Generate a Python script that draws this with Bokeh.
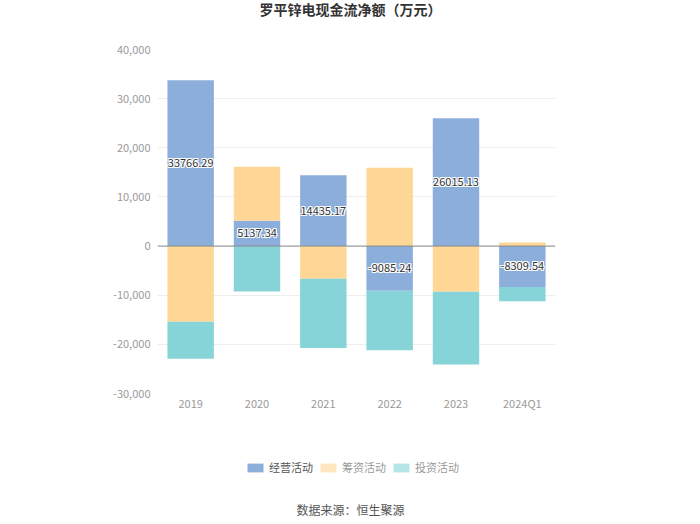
from bokeh.plotting import figure
from bokeh.layouts import column
from bokeh.models import (ColumnDataSource, FactorRange, Range1d, FixedTicker, NumeralTickFormatter,
                          Span, Label, Legend, LegendItem)
from bokeh.embed import file_html
from bokeh.resources import INLINE
from bokeh.core.properties import value

categories = ["2019", "2020", "2021", "2022", "2023", "2024Q1"]
operating = [33766.29, 5137.34, 14435.17, -9085.24, 26015.13, -8309.54]
financing = [-15400.0, 11000.0, -6650.0, 15950.0, -9300.0, 750.0]
investing = [-7550.0, -9250.0, -14080.0, -12100.0, -14820.0, -2900.0]
series_names = ["经营活动", "筹资活动", "投资活动"]
y_ticks = [-30000, -20000, -10000, 0, 10000, 20000, 30000, 40000]
title_text = "罗平锌电现金流净额（万元）"
source_text = "数据来源：恒生聚源"

colors = ["#8caedb", "#fed797", "#86d4d8"]
FONT = "Noto Sans CJK SC"

W = 700
H_TOP, H_MAIN, H_BOT = 30, 390, 104
BL, BR = 157, 145  # left / right borders shared by all three rows


def blank(h):
    f = figure(width=W, height=h, x_range=Range1d(BL, W - BR), y_range=Range1d(0, h),
               output_backend="svg", toolbar_location=None,
               min_border_left=BL, min_border_right=BR, min_border_top=0, min_border_bottom=0,
               x_axis_location=None, y_axis_location=None)
    f.outline_line_color = None
    f.xgrid.visible = False
    f.ygrid.visible = False
    return f


# ---- title strip
p_top = blank(H_TOP)
p_top.add_layout(Label(x=W / 2, y=H_TOP - 8, text=title_text, text_align="center",
                       text_baseline="middle", text_font=FONT, text_font_size="14px",
                       text_font_style="bold", text_color="#333333"))

# ---- main chart
p = figure(x_range=FactorRange(*categories), y_range=Range1d(-30000, 40000),
           width=W, height=H_MAIN, output_backend="svg", toolbar_location=None,
           min_border_left=BL, min_border_right=BR, min_border_top=19, min_border_bottom=27)
p.outline_line_color = None

pos = [0.0] * len(categories)
neg = [0.0] * len(categories)
for vals, col in zip([operating, financing, investing], colors):
    bottoms, tops = [], []
    for i, v in enumerate(vals):
        if v >= 0:
            bottoms.append(pos[i]); tops.append(pos[i] + v); pos[i] += v
        else:
            bottoms.append(neg[i]); tops.append(neg[i] + v); neg[i] += v
    src = ColumnDataSource(dict(x=categories, bottom=bottoms, top=tops))
    p.vbar(x="x", bottom="bottom", top="top", width=0.7, source=src,
           fill_color=col, line_color=None)

p.add_layout(Span(location=0, dimension="width", line_color="#8a8a8a", line_width=1))

lab_src = ColumnDataSource(dict(x=categories, y=[v / 2 for v in operating],
                                t=["%.2f" % v for v in operating]))
for dx, dy in [(-1, 0), (1, 0), (0, -1), (0, 1), (-1, -1), (1, 1), (-1, 1), (1, -1)]:
    p.text(x="x", y="y", text="t", source=lab_src, x_offset=dx, y_offset=dy,
           text_align="center", text_baseline="middle", text_color="white",
           text_font=value(FONT), text_font_size="11px")
p.text(x="x", y="y", text="t", source=lab_src, text_align="center", text_baseline="middle",
       text_color="#333333", text_font=value(FONT), text_font_size="11px")

for ax in (p.xaxis[0], p.yaxis[0]):
    ax.axis_line_color = None
    ax.major_tick_line_color = None
    ax.minor_tick_line_color = None
    ax.major_tick_out = 0
    ax.major_tick_in = 0
    ax.minor_tick_out = 0
    ax.minor_tick_in = 0
    ax.major_label_text_color = "#9a9a9a"
    ax.major_label_text_font = FONT
    ax.major_label_text_font_size = "11px"
p.yaxis.ticker = FixedTicker(ticks=y_ticks)
p.yaxis.formatter = NumeralTickFormatter(format="0,0")
p.yaxis.major_label_standoff = 7
p.xaxis.major_label_standoff = 1
p.xgrid.grid_line_color = None
p.ygrid.grid_line_color = "#eeeeee"
p.ygrid.ticker = FixedTicker(ticks=y_ticks)

# ---- legend + source strip
p_bot = blank(H_BOT)
leg_r = [p_bot.vbar(x=[BL], top=[0], bottom=[0], width=0, fill_color=c, line_color=None)
         for c in colors]
leg_r[1].visible = False
leg_r[2].visible = False
legend = Legend(items=[LegendItem(label=n, renderers=[r]) for n, r in zip(series_names, leg_r)],
                orientation="horizontal", location=(88, 49), click_policy="hide",
                glyph_width=20, glyph_height=11, label_height=12, label_standoff=4,
                spacing=5, padding=0, margin=0, border_line_color=None,
                background_fill_alpha=0, label_text_font=FONT, label_text_font_size="11px",
                label_text_color="#555555", inactive_fill_color="white", inactive_fill_alpha=0.4)
p_bot.add_layout(legend, "center")
p_bot.add_layout(Label(x=W / 2, y=H_BOT - 89, text=source_text, text_align="center",
                       text_baseline="middle", text_font=FONT, text_font_size="12px",
                       text_color="#555555"))

layout = column(p_top, p, p_bot, spacing=0)
open("out.html", "w").write(file_html(layout, INLINE))
